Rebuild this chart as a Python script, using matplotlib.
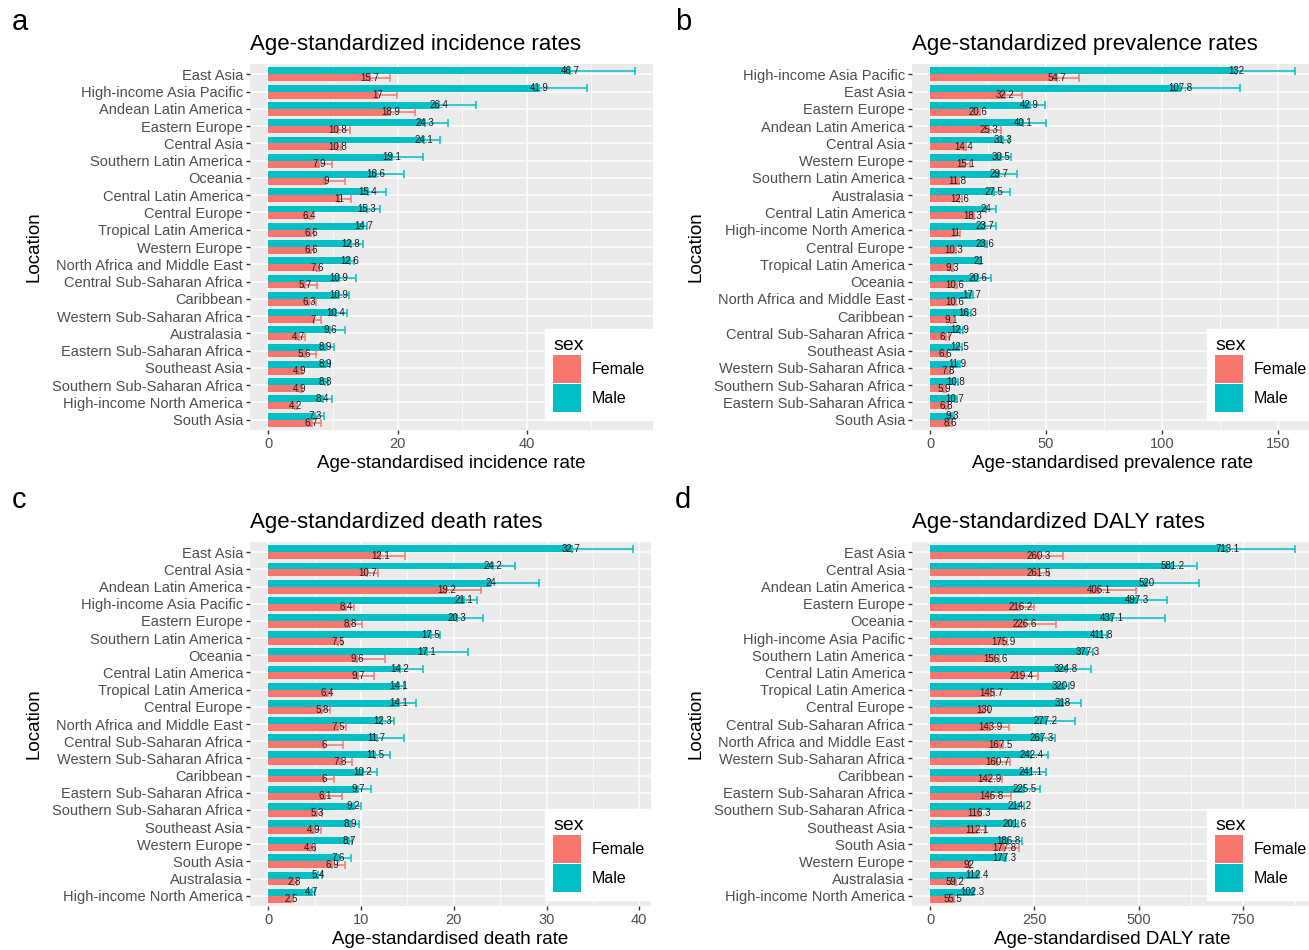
import matplotlib
matplotlib.use('Agg')
import matplotlib.pyplot as plt
from matplotlib.patches import Patch
from matplotlib.ticker import MultipleLocator
import numpy as np

plt.rcParams['font.family'] = ['Liberation Sans', 'DejaVu Sans']

FEMALE = '#F8766D'
MALE = '#00BFC4'
W, H = 1309, 950

# --- incidence ---
inc_loc = ['East Asia', 'High-income Asia Pacific', 'Andean Latin America', 'Eastern Europe',
           'Central Asia', 'Southern Latin America', 'Oceania', 'Central Latin America',
           'Central Europe', 'Tropical Latin America', 'Western Europe',
           'North Africa and Middle East', 'Central Sub-Saharan Africa', 'Caribbean',
           'Western Sub-Saharan Africa', 'Australasia', 'Eastern Sub-Saharan Africa',
           'Southeast Asia', 'Southern Sub-Saharan Africa', 'High-income North America',
           'South Asia']
inc_male = [46.7, 41.9, 26.4, 24.3, 24.1, 19.1, 16.6, 15.4, 15.3, 14.7, 12.8,
            12.6, 10.9, 10.9, 10.4, 9.6, 8.9, 8.9, 8.8, 8.4, 7.3]
inc_male_hi = [56.7, 49.3, 32.2, 27.8, 26.6, 23.9, 21.0, 18.2, 17.3, 15.3, 14.6,
               13.2, 13.6, 12.5, 12.1, 11.8, 10.2, 9.6, 9.3, 9.9, 8.6]
inc_female = [15.7, 17, 18.9, 10.8, 10.8, 7.9, 9, 11, 6.4, 6.6, 6.6,
              7.6, 5.7, 6.3, 7, 4.7, 5.6, 4.9, 4.9, 4.2, 6.7]
inc_female_hi = [18.9, 19.9, 22.7, 12.6, 11.2, 9.8, 11.8, 12.8, 6.8, 7.0, 7.0,
                 7.9, 7.5, 7.4, 8.1, 5.7, 7.4, 5.2, 5.2, 4.5, 8.1]

# --- prevalence ---
prev_loc = ['High-income Asia Pacific', 'East Asia', 'Eastern Europe', 'Andean Latin America',
            'Central Asia', 'Western Europe', 'Southern Latin America', 'Australasia',
            'Central Latin America', 'High-income North America', 'Central Europe',
            'Tropical Latin America', 'Oceania', 'North Africa and Middle East', 'Caribbean',
            'Central Sub-Saharan Africa', 'Southeast Asia', 'Western Sub-Saharan Africa',
            'Southern Sub-Saharan Africa', 'Eastern Sub-Saharan Africa', 'South Asia']
prev_male = [132, 107.8, 42.9, 40.1, 31.3, 30.5, 29.7, 27.5, 24, 23.7, 23.6,
             21, 20.6, 17.7, 16.3, 12.9, 12.5, 11.9, 10.8, 10.7, 9.3]
prev_male_hi = [157.3, 133.8, 49.4, 49.9, 34.2, 34.8, 37.6, 34.5, 28.4, 28.3, 24.5,
                22.0, 26.3, 18.5, 17.5, 14.0, 13.5, 13.0, 11.8, 11.6, 10.2]
prev_female = [54.7, 32.2, 20.6, 25.3, 14.4, 15.1, 11.8, 12.6, 18.3, 11, 10.3,
               9.3, 10.6, 10.6, 9.1, 6.7, 6.6, 7.8, 5.9, 6.8, 8.6]
prev_female_hi = [64.2, 39.5, 21.5, 30.6, 15.5, 17.2, 12.5, 13.5, 19.0, 12.9, 11.0,
                  10.0, 11.5, 11.0, 9.8, 8.0, 7.2, 8.6, 6.6, 7.6, 9.6]

# --- deaths ---
death_loc = ['East Asia', 'Central Asia', 'Andean Latin America', 'High-income Asia Pacific',
             'Eastern Europe', 'Southern Latin America', 'Oceania', 'Central Latin America',
             'Tropical Latin America', 'Central Europe', 'North Africa and Middle East',
             'Central Sub-Saharan Africa', 'Western Sub-Saharan Africa', 'Caribbean',
             'Eastern Sub-Saharan Africa', 'Southern Sub-Saharan Africa', 'Southeast Asia',
             'Western Europe', 'South Asia', 'Australasia', 'High-income North America']
death_male = [32.7, 24.2, 24, 21.1, 20.3, 17.5, 17.1, 14.2, 14.1, 14.1, 12.3,
              11.7, 11.5, 10.2, 9.7, 9.2, 8.9, 8.7, 7.6, 5.4, 4.7]
death_male_hi = [39.3, 26.6, 29.2, 22.5, 23.1, 18.5, 21.5, 16.7, 14.6, 15.9, 13.6,
                 14.6, 13.1, 11.7, 11.1, 10.0, 9.8, 9.0, 8.9, 5.8, 5.0]
death_female = [12.1, 10.7, 19.2, 8.4, 8.8, 7.5, 9.6, 9.7, 6.4, 5.8, 7.5,
                6, 7.8, 6, 6.1, 5.3, 4.9, 4.6, 6.9, 2.8, 2.5]
death_female_hi = [14.7, 11.8, 22.9, 9.2, 10.1, 7.9, 12.6, 11.4, 6.8, 6.7, 8.4,
                   8.1, 9.0, 7.1, 8.0, 5.8, 5.7, 5.0, 8.3, 3.1, 2.7]

# --- DALYs ---
daly_loc = ['East Asia', 'Central Asia', 'Andean Latin America', 'Eastern Europe', 'Oceania',
            'High-income Asia Pacific', 'Southern Latin America', 'Central Latin America',
            'Tropical Latin America', 'Central Europe', 'Central Sub-Saharan Africa',
            'North Africa and Middle East', 'Western Sub-Saharan Africa', 'Caribbean',
            'Eastern Sub-Saharan Africa', 'Southern Sub-Saharan Africa', 'Southeast Asia',
            'South Asia', 'Western Europe', 'Australasia', 'High-income North America']
daly_male = [713.1, 581.2, 520, 497.3, 437.1, 411.8, 377.3, 324.8, 320.9, 318, 277.2,
             267.3, 242.4, 241.1, 225.5, 214.2, 201.6, 186.8, 177.3, 112.4, 102.3]
daly_male_hi = [875, 641, 644, 568, 563, 425, 390, 387, 332, 363, 347,
                299, 283, 279, 264, 225, 210, 221, 182, 118, 106]
daly_female = [260.3, 261.5, 406.1, 216.2, 226.6, 175.9, 156.6, 219.4, 145.7, 130, 143.9,
               167.5, 160.7, 142.9, 146.8, 116.3, 112.1, 177.8, 92, 59.2, 55.5]
daly_female_hi = [319, 285, 494, 250, 302, 185, 165, 258, 152, 140, 189,
                  175, 192, 172, 194, 122, 131, 214, 96, 63, 58]


def px_rect(left, top, right, bottom):
    return [left / W, 1 - bottom / H, (right - left) / W, (bottom - top) / H]


def draw_panel(fig, rect, letter, letter_xy, title, xlabel, locs, male, male_hi,
               female, female_hi, major, legend_xy):
    ax = fig.add_axes(rect)
    n = len(locs)
    pos = np.arange(n)[::-1]
    male = np.array(male)
    female = np.array(female)
    male_hi = np.array(male_hi)
    female_hi = np.array(female_hi)
    bh = 0.4

    ax.barh(pos + bh / 2, male, height=bh, color=MALE, zorder=2)
    ax.barh(pos - bh / 2, female, height=bh, color=FEMALE, zorder=2)
    ax.errorbar(male, pos + bh / 2, xerr=[np.zeros(n), male_hi - male], fmt='none',
                ecolor=MALE, elinewidth=1.1, capsize=2.7, capthick=1.1, zorder=3)
    ax.errorbar(female, pos - bh / 2, xerr=[np.zeros(n), female_hi - female], fmt='none',
                ecolor=FEMALE, elinewidth=1.1, capsize=2.7, capthick=1.1, zorder=3)
    for y, v in zip(pos, male):
        ax.text(v, y + bh / 2, f'{v:g}', ha='center', va='center', fontsize=7,
                color='#1a1a1a', zorder=4)
    for y, v in zip(pos, female):
        ax.text(v, y - bh / 2, f'{v:g}', ha='center', va='center', fontsize=7,
                color='#1a1a1a', zorder=4)

    m = max(male_hi.max(), female_hi.max())
    ax.set_xlim(-0.05 * m, 1.05 * m)
    ax.set_ylim(-0.6, n - 0.4)
    ax.xaxis.set_major_locator(MultipleLocator(major))
    ax.xaxis.set_minor_locator(MultipleLocator(major / 2))
    ax.set_yticks(pos)
    ax.set_yticklabels(locs)

    ax.set_facecolor('#EBEBEB')
    ax.set_axisbelow(True)
    ax.grid(which='major', color='white', linewidth=1.1)
    ax.grid(which='minor', axis='x', color='white', linewidth=0.55)
    for s in ax.spines.values():
        s.set_visible(False)
    ax.tick_params(which='major', length=3, width=1, color='#333333',
                   labelcolor='#4D4D4D', labelsize=10.5, pad=2)
    ax.tick_params(which='minor', length=0)

    ax.set_title(title, loc='left', fontsize=16, pad=10)
    ax.set_xlabel(xlabel, fontsize=13.5, labelpad=3)
    ax.set_ylabel('Location', fontsize=13.5, labelpad=7)

    fig.text(letter_xy[0] / W, 1 - letter_xy[1] / H, letter, fontsize=21,
             ha='left', va='center')

    # sex legend sits in a white box over the lower right of the panel
    handles = [Patch(facecolor=FEMALE, label='Female'),
               Patch(facecolor=MALE, label='Male')]
    fig.legend(handles=handles, title='sex', loc='upper left',
               bbox_to_anchor=(legend_xy[0] / W, 1 - legend_xy[1] / H),
               frameon=True, facecolor='white', edgecolor='white', framealpha=1,
               fancybox=False, fontsize=11.5, title_fontsize=14, alignment='left',
               handlelength=1.76, handleheight=2.33, labelspacing=0.05,
               handletextpad=0.65, borderpad=0.5, borderaxespad=0)
    return ax


fig = plt.figure(figsize=(W / 100, H / 100), dpi=100)

draw_panel(fig, px_rect(250, 64, 653, 430), 'a', (12, 22),
           'Age-standardized incidence rates', 'Age-standardised incidence rate',
           inc_loc, inc_male, inc_male_hi, inc_female, inc_female_hi, 20, (545, 329))
draw_panel(fig, px_rect(912, 64, 1313, 430), 'b', (675, 22),
           'Age-standardized prevalence rates', 'Age-standardised prevalence rate',
           prev_loc, prev_male, prev_male_hi, prev_female, prev_female_hi, 50, (1207, 329))
draw_panel(fig, px_rect(250, 542, 651, 906), 'c', (12, 500),
           'Age-standardized death rates', 'Age-standardised death rate',
           death_loc, death_male, death_male_hi, death_female, death_female_hi, 10, (545, 809))
draw_panel(fig, px_rect(912, 542, 1313, 906), 'd', (675, 500),
           'Age-standardized DALY rates', 'Age-standardised DALY rate',
           daly_loc, daly_male, daly_male_hi, daly_female, daly_female_hi, 250, (1207, 809))

fig.savefig('out.png', dpi=100, facecolor='white')
